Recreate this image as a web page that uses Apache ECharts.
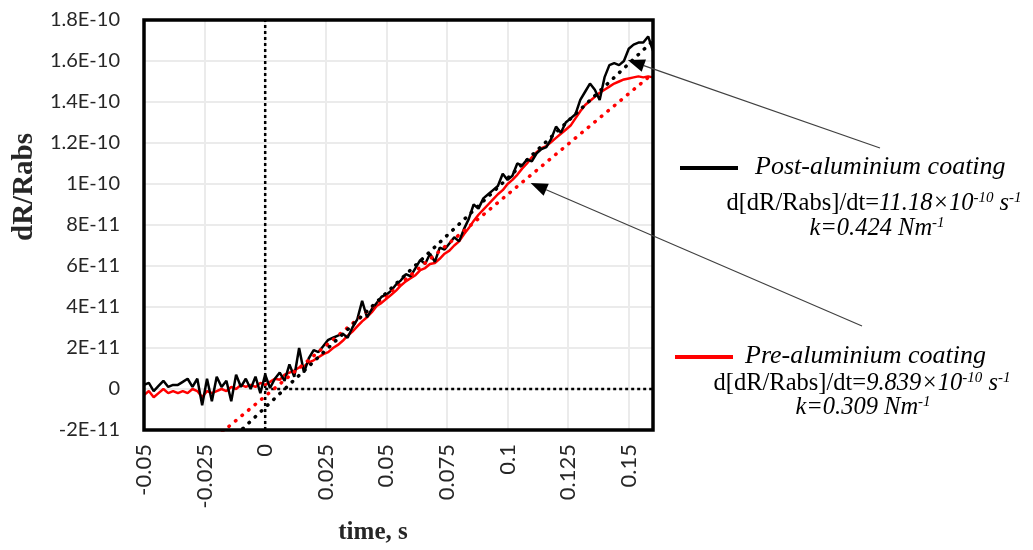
<!DOCTYPE html>
<html>
<head>
<meta charset="utf-8">
<script src="https://cdn.jsdelivr.net/npm/echarts@6/dist/echarts.min.js"></script>
<style>
  html, body { margin: 0; padding: 0; background: #fff; }
  #main { width: 1033px; height: 550px; }
</style>
</head>
<body>
<div id="main"></div>
<script>
// Sampling of the recorded traces: one reading every 2 ms from t = -0.05 s
const T_START = -0.05;
const T_STEP = 0.002;
// Readings are listed in units of 1E-11
const UNIT = 1e-11;

// Post-aluminium coating (black trace)
const postCoating = [
  0.2, 0.3, -0.1, 0.15, 0.4, 0.1, 0.2, 0.2, 0.35, 0.5, 0.1, 0.5, -0.8, 0.5, -0.6, 0.6, 0.1, 0.4, -0.6, 0.7, 0.1, 0.5, 0.0, 0.6, -0.2, 0.7,
  0.05, 0.5, 0.8, 0.4, 1.2, 0.6, 2.0, 0.8, 1.5, 1.9, 1.8, 2.1, 2.4, 2.5, 2.6, 2.7, 2.5, 3.0, 3.4, 4.3, 3.5, 3.9, 4.2, 4.5,
  4.6, 4.8, 5.1, 5.3, 5.6, 5.5, 5.9, 6.3, 6.1, 6.6, 6.2, 6.9, 6.8, 7.1, 7.4, 7.2, 7.8, 8.3, 9.0, 8.8, 9.3, 9.5, 9.7, 9.9,
  10.5, 10.2, 10.4, 11.0, 10.9, 11.2, 11.1, 11.5, 11.7, 11.8, 12.2, 12.8, 12.5, 13.0, 13.2, 13.4, 14.1, 14.5, 14.9, 14.6,
  14.1, 15.2, 15.8, 15.9, 15.8, 16.0, 16.6, 16.8, 16.9, 16.9, 17.2, 16.5
];

// Pre-aluminium coating (red trace)
const preCoating = [
  -0.3, -0.1, -0.4, -0.2, 0.0, -0.2, -0.1, -0.2, -0.1, -0.2, 0.0, -0.1, -0.4, -0.1, -0.2, -0.1, 0.0, -0.1, 0.1, 0.0, 0.2, 0.1, 0.2, 0.1, 0.3, 0.2,
  0.35, 0.5, 0.45, 0.7, 0.8, 0.9, 1.05, 1.1, 1.3, 1.4, 1.55, 1.7, 1.8, 2.0, 2.15, 2.35, 2.6, 2.8, 3.05, 3.3, 3.5, 3.75, 4.05, 4.2,
  4.4, 4.6, 4.8, 5.05, 5.25, 5.4, 5.55, 5.8, 5.9, 6.1, 6.15, 6.35, 6.6, 6.75, 7.0, 7.2, 7.55, 7.85, 8.2, 8.5, 8.75, 9.0, 9.25,
  9.5, 9.7, 10.0, 10.2, 10.45, 10.75, 11.0, 11.3, 11.55, 11.75, 11.85, 12.05, 12.25, 12.45, 12.65, 12.85, 13.2, 13.55, 13.85, 14.05, 14.25,
  14.45, 14.6, 14.75, 14.9, 15.0, 15.1, 15.15, 15.2, 15.25, 15.2, 15.25, 15.2
];

// Linear fits: slope in s^-1 (as quoted), intercept in units of 1E-11
const fitSlopes = { post: 11.18e-10, pre: 9.839e-10 };
const fitIntercepts = { post: -0.9, pre: -0.35 };

// Axis ranges and tick labels
const X_MIN = -0.05, X_MAX = 0.16, X_STEP = 0.025;
const Y_MIN = -2e-11, Y_MAX = 1.8e-10, Y_STEP = 2e-11;
const xTickLabels = ['-0.05', '-0.025', '0', '0.025', '0.05', '0.075', '0.1', '0.125', '0.15'];
const yTickLabels = ['-2E-11', '0', '2E-11', '4E-11', '6E-11', '8E-11', '1E-10', '1.2E-10', '1.4E-10', '1.6E-10', '1.8E-10'];

// Arrow targets on the fitted lines (time, value)
const arrowTargets = { post: [0.1496, 1.605e-10], pre: [0.1095, 1.005e-10] };

function toPairs(values) {
  return values.map((v, i) => [+(T_START + i * T_STEP).toFixed(4), v * UNIT]);
}
function fitLine(key) {
  const b = fitIntercepts[key] * UNIT;
  return [X_MIN, X_MAX].map(t => [t, fitSlopes[key] * t + b]);
}
function tickText(labels, min, step) {
  return v => {
    const i = Math.round((v - min) / step);
    return Math.abs(min + i * step - v) < step * 1e-3 ? (labels[i] || '') : '';
  };
}

const SANS = 'Lato, "Open Sans", sans-serif';
const SERIF = '"Liberation Serif", "DejaVu Serif", serif';

const chart = echarts.init(document.getElementById('main'), null, { renderer: 'canvas' });

const option = {
  animation: false,
  backgroundColor: '#fff',
  grid: { left: 144, top: 20, right: 380, bottom: 120 },
  xAxis: {
    type: 'value', min: X_MIN, max: X_MAX, interval: X_STEP,
    axisLine: { show: false }, axisTick: { show: false },
    splitLine: { show: true, lineStyle: { color: '#ebebeb', width: 2 } },
    axisLabel: {
      rotate: 90, margin: 14, fontFamily: SANS, fontSize: 22, color: '#262626',
      showMaxLabel: false,
      formatter: tickText(xTickLabels, X_MIN, X_STEP)
    }
  },
  yAxis: {
    type: 'value', min: Y_MIN, max: Y_MAX, interval: Y_STEP,
    axisLine: { show: false }, axisTick: { show: false },
    splitLine: { show: true, lineStyle: { color: '#ebebeb', width: 2 } },
    axisLabel: {
      margin: 24, fontFamily: SANS, fontSize: 20, color: '#262626',
      formatter: tickText(yTickLabels, Y_MIN, Y_STEP)
    }
  },
  series: [
    {
      name: 'zero time', type: 'line', symbol: 'none', silent: true, z: 1,
      data: [[0, Y_MIN], [0, Y_MAX]],
      lineStyle: { color: '#000', width: 2.5, type: [3, 3] }
    },
    {
      name: 'zero level', type: 'line', symbol: 'none', silent: true, z: 1,
      data: [[0, 0], [X_MAX, 0]],
      lineStyle: { color: '#000', width: 2.5, type: [3, 3] }
    },
    {
      name: 'Pre-aluminium coating', type: 'line', symbol: 'none', z: 2,
      data: toPairs(preCoating),
      lineStyle: { color: '#ff0000', width: 2.5 }
    },
    {
      name: 'Post-aluminium coating', type: 'line', symbol: 'none', z: 3,
      data: toPairs(postCoating),
      lineStyle: { color: '#000000', width: 2.5 }
    },
    {
      name: 'Pre fit', type: 'line', symbol: 'none', z: 4, clip: true,
      data: fitLine('pre'),
      lineStyle: { color: '#ff0000', width: 3.5, type: [0.5, 8], cap: 'round' }
    },
    {
      name: 'Post fit', type: 'line', symbol: 'none', z: 5, clip: true,
      data: fitLine('post'),
      lineStyle: { color: '#000000', width: 3.5, type: [0.5, 8], cap: 'round' }
    }
  ]
};
chart.setOption(option);

// Annotation arrows and legend block
function arrow(from, target) {
  const tip = chart.convertToPixel({ gridIndex: 0 }, target);
  const dx = tip[0] - from[0], dy = tip[1] - from[1];
  const len = Math.sqrt(dx * dx + dy * dy);
  const ux = dx / len, uy = dy / len;
  const headLen = 17, headHalf = 6.5;
  const bx = tip[0] - ux * headLen, by = tip[1] - uy * headLen;
  return [
    { type: 'line', z: 20, shape: { x1: from[0], y1: from[1], x2: bx, y2: by },
      style: { stroke: '#404040', lineWidth: 1.2 } },
    { type: 'polygon', z: 20,
      shape: { points: [tip, [bx - uy * headHalf, by + ux * headHalf], [bx + uy * headHalf, by - ux * headHalf]] },
      style: { fill: '#000' } }
  ];
}

// Thick frame around the plotting area
const topLeft = chart.convertToPixel({ gridIndex: 0 }, [X_MIN, Y_MAX]);
const bottomRight = chart.convertToPixel({ gridIndex: 0 }, [X_MAX, Y_MIN]);
const frame = {
  type: 'rect', z: 15, silent: true,
  shape: { x: topLeft[0], y: topLeft[1], width: bottomRight[0] - topLeft[0], height: bottomRight[1] - topLeft[1] },
  style: { fill: 'none', stroke: '#000', lineWidth: 3.5 }
};

const rich = {
  n: { fontFamily: SERIF, fontSize: 24.5, lineHeight: 27, color: '#000' },
  i: { fontFamily: SERIF, fontStyle: 'italic', fontSize: 24.5, lineHeight: 27, color: '#000' },
  t: { fontFamily: SERIF, fontStyle: 'italic', fontSize: 26, lineHeight: 28, color: '#000' },
  sup: { fontFamily: SERIF, fontStyle: 'italic', fontSize: 15, lineHeight: 10, verticalAlign: 'top', color: '#000' }
};
function richText(x, y, text, align) {
  return { type: 'text', z: 20, x: x, y: y,
    style: { text: text, rich: rich, align: align || 'center', verticalAlign: 'middle' } };
}

const graphics = [].concat(
  [frame],
  arrow([880, 148], arrowTargets.post),
  arrow([862, 326], arrowTargets.pre),
  [
    { type: 'line', z: 20, shape: { x1: 680, y1: 168, x2: 738, y2: 168 }, style: { stroke: '#000', lineWidth: 4 } },
    richText(755, 167, '{t|Post-aluminium coating}', 'left'),
    richText(874, 204, '{n|d[dR/Rabs]/dt=}{i|11.18×10}{sup|-10}{i| s}{sup|-1}'),
    richText(877, 229, '{i|k=0.424 Nm}{sup|-1}'),
    { type: 'line', z: 20, shape: { x1: 675, y1: 357, x2: 733, y2: 357 }, style: { stroke: '#ff0000', lineWidth: 4 } },
    richText(745, 356, '{t|Pre-aluminium coating}', 'left'),
    richText(862, 384, '{n|d[dR/Rabs]/dt=}{i|9.839×10}{sup|-10}{i| s}{sup|-1}'),
    richText(863, 408, '{i|k=0.309 Nm}{sup|-1}'),
    { type: 'text', z: 20, x: 25, y: 187, rotation: Math.PI / 2,
      style: { text: 'dR/Rabs', font: 'bold 29px ' + SERIF, fill: '#262626', align: 'center', verticalAlign: 'middle' } },
    { type: 'text', z: 20, x: 373, y: 533,
      style: { text: 'time, s', font: 'bold 25px ' + SERIF, fill: '#262626', align: 'center', verticalAlign: 'middle' } }
  ]
);
chart.setOption({ graphic: graphics });
</script>
</body>
</html>
